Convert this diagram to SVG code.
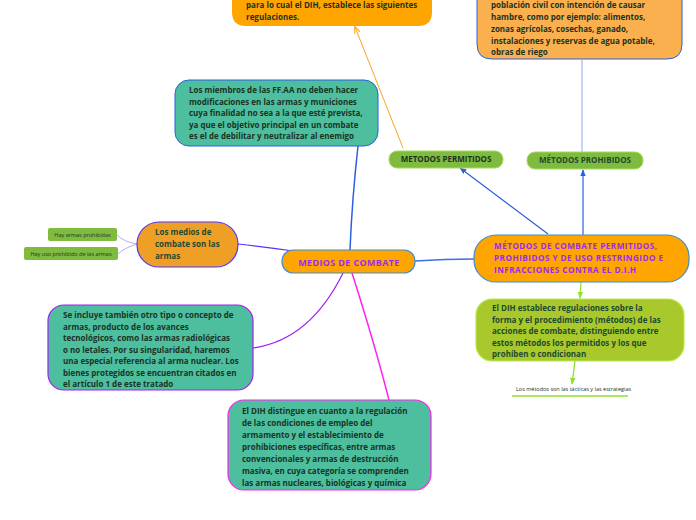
<svg xmlns="http://www.w3.org/2000/svg" width="696" height="520" viewBox="0 0 696 520">
<defs>
<style>
.t{font-family:"Open Sans","Liberation Sans",sans-serif;font-weight:bold;font-size:8px;fill:#1b3324}
.p{font-family:"Open Sans","Liberation Sans",sans-serif;font-weight:bold;fill:#9a2cf0}
.g{font-family:"Open Sans","Liberation Sans",sans-serif;font-size:5.5px;fill:#1b3324}
.teal{fill:#4dbe9e}
</style>
<marker id="ab" viewBox="0 0 10 10" refX="9" refY="5" markerWidth="7" markerHeight="7" orient="auto-start-reverse" markerUnits="userSpaceOnUse"><path d="M0,1 L10,5 L0,9 Z" fill="#2b5fe0"/></marker>
<marker id="ao" viewBox="0 0 10 10" refX="9" refY="5" markerWidth="7" markerHeight="7" orient="auto" markerUnits="userSpaceOnUse"><path d="M0,1 L10,5 L0,9" fill="none" stroke="#f5a623" stroke-width="1.5"/></marker>
<marker id="ag" viewBox="0 0 10 10" refX="9" refY="5" markerWidth="7" markerHeight="7" orient="auto" markerUnits="userSpaceOnUse"><path d="M0,1 L10,5 L0,9 Z" fill="#8ee22a"/></marker>
</defs>
<rect width="696" height="520" fill="#fff"/>
<g id="connectors" fill="none">
<path d="M403,148 L355,27" stroke="#f5a623" stroke-width="1" marker-end="url(#ao)"/>
<path d="M582,152 L582,60" stroke="#9fb8f0" stroke-width="1.2"/>
<path d="M548,234 L460,168" stroke="#2b5fe0" stroke-width="1.2" marker-end="url(#ab)"/>
<path d="M583,235 L583,170" stroke="#2b5fe0" stroke-width="1.2" marker-end="url(#ab)"/>
<path d="M415,261 Q445,259 474,259" stroke="#3b6fe8" stroke-width="1.3"/>
<path d="M350,250 Q352,200 358,146" stroke="#2b5fe0" stroke-width="1.5"/>
<path d="M238,244 Q265,247 293,251" stroke="#5533ff" stroke-width="1.2"/>
<path d="M137,244 Q124,242 117,235" stroke="#b9a8f5" stroke-width="1"/>
<path d="M137,244 Q124,248 118,254" stroke="#b9a8f5" stroke-width="1"/>
<path d="M253,348 Q310,340 343,273" stroke="#a020f0" stroke-width="1.2"/>
<path d="M352,273 Q375,345 389,400" stroke="#ff22ee" stroke-width="1.5"/>
<path d="M581,282 L580,298" stroke="#8ee22a" stroke-width="1.3" marker-end="url(#ag)"/>
<path d="M575,361 L572,384" stroke="#8ee22a" stroke-width="1.3" marker-end="url(#ag)"/>
</g>
<g id="n-top-left">
<path d="M232,-10 H432 V12 Q432,26 418,26 H246 Q232,26 232,12 Z" fill="#ffa500"/>
<text class="t" x="246" y="8">para lo cual el DIH, establece las siguientes</text>
<text class="t" x="246" y="19.5">regulaciones.</text>
</g>
<g id="n-top-right">
<path d="M477,-10 H682 V44 Q682,59 667,59 H492 Q477,59 477,44 Z" fill="#fab04e" stroke="#2b5fe0" stroke-width="1"/>
<text class="t" x="491" y="8">población civil con intención de causar</text>
<text class="t" x="491" y="20">hambre, como por ejemplo: alimentos,</text>
<text class="t" x="491" y="32">zonas agrícolas, cosechas, ganado,</text>
<text class="t" x="491" y="43.5">instalaciones y reservas de agua potable,</text>
<text class="t" x="491" y="55">obras de riego</text>
</g>
<g id="n-ffaa">
<rect x="175" y="80" width="203" height="66" rx="14" class="teal" stroke="#2b5fe0" stroke-width="1"/>
<text class="t" x="189" y="93">Los miembros de las FF.AA no deben hacer</text>
<text class="t" x="189" y="104.5">modificaciones en las armas y municiones</text>
<text class="t" x="189" y="116">cuya finalidad no sea a la que esté prevista,</text>
<text class="t" x="189" y="127.5">ya que el objetivo principal en un combate</text>
<text class="t" x="189" y="139">es el de debilitar y neutralizar al enemigo</text>
</g>
<g id="n-permitidos">
<rect x="389" y="151" width="114" height="17" rx="8" fill="#7fbb3f" stroke="#a6dc5a" stroke-width="1"/>
<text class="t" x="446" y="162" text-anchor="middle" font-size="7">METODOS PERMITIDOS</text>
</g>
<g id="n-prohibidos">
<rect x="527" y="152" width="116" height="17" rx="8" fill="#7fbb3f" stroke="#a6dc5a" stroke-width="1"/>
<text class="t" x="585" y="163" text-anchor="middle" font-size="7" style="fill:#1e4a30">MÉTODOS PROHIBIDOS</text>
</g>
<g id="n-main">
<rect x="474" y="235" width="215" height="47" rx="22" fill="#ffa500" stroke="#3f8ecf" stroke-width="1.2"/>
<text class="p" x="494" y="249" font-size="8.2" letter-spacing="0.45">MÉTODOS DE COMBATE PERMITIDOS,</text>
<text class="p" x="494" y="261" font-size="8.2" letter-spacing="0.45">PROHIBIDOS Y DE USO RESTRINGIDO E</text>
<text class="p" x="494" y="273" font-size="8.2" letter-spacing="0.45">INFRACCIONES CONTRA EL D.I.H</text>
</g>
<g id="n-medios">
<rect x="282" y="250" width="133" height="23" rx="11" fill="#ffa500" stroke="#3f8ecf" stroke-width="1.2"/>
<text class="p" x="349" y="265.5" text-anchor="middle" font-size="9" letter-spacing="0.35">MEDIOS DE COMBATE</text>
</g>
<g id="n-armas">
<rect x="137" y="222" width="101" height="45" rx="22" fill="#ef9f26" stroke="#5533ff" stroke-width="1.2"/>
<text class="t" x="155" y="235" style="fill:#1e4a30">Los medios de</text>
<text class="t" x="155" y="247" style="fill:#1e4a30">combate son las</text>
<text class="t" x="155" y="259" style="fill:#1e4a30">armas</text>
</g>
<g id="n-hay1">
<rect x="48" y="228" width="69" height="13" rx="2" fill="#7fbb3f"/>
<text class="g" x="82.5" y="236.5" text-anchor="middle">Hay armas prohibidas</text>
</g>
<g id="n-hay2">
<rect x="24" y="247" width="94" height="13" rx="2" fill="#7fbb3f"/>
<text class="g" x="71" y="255.5" text-anchor="middle">Hay uso prohibido de las armas</text>
</g>
<g id="n-incluye">
<rect x="48" y="305" width="205" height="85" rx="16" class="teal" stroke="#a020f0" stroke-width="1.2"/>
<text class="t" x="63" y="318">Se incluye también otro tipo o concepto de</text>
<text class="t" x="63" y="329.5">armas, producto de los avances</text>
<text class="t" x="63" y="341">tecnológicos, como las armas radiológicas</text>
<text class="t" x="63" y="352.5">o no letales.  Por su singularidad, haremos</text>
<text class="t" x="63" y="364">una especial referencia al arma nuclear. Los</text>
<text class="t" x="63" y="375.5">bienes protegidos se encuentran citados en</text>
<text class="t" x="63" y="387">el artículo 1 de este tratado</text>
</g>
<g id="n-distingue">
<rect x="228" y="400" width="203" height="90" rx="16" class="teal" stroke="#ff22ee" stroke-width="1.2"/>
<text class="t" x="242" y="414">El DIH distingue en cuanto a la regulación</text>
<text class="t" x="242" y="426">de las condiciones de empleo del</text>
<text class="t" x="242" y="438">armamento y el establecimiento de</text>
<text class="t" x="242" y="450">prohibiciones específicas, entre armas</text>
<text class="t" x="242" y="462">convencionales y armas de destrucción</text>
<text class="t" x="242" y="474">masiva, en cuya categoría se comprenden</text>
<text class="t" x="242" y="486">las armas nucleares, biológicas y química</text>
</g>
<g id="n-establece">
<rect x="476" y="299" width="208" height="62" rx="16" fill="#a8c82c" stroke="#b8ea50" stroke-width="1.2"/>
<text class="t" x="492" y="311" style="fill:#1e4a30">El DIH establece regulaciones sobre la</text>
<text class="t" x="492" y="322.5" style="fill:#1e4a30">forma y el procedimiento (métodos) de las</text>
<text class="t" x="492" y="334" style="fill:#1e4a30">acciones de combate, distinguiendo entre</text>
<text class="t" x="492" y="345.5" style="fill:#1e4a30">estos métodos los permitidos y los que</text>
<text class="t" x="492" y="357" style="fill:#1e4a30">prohíben o condicionan</text>
</g>
<g id="n-tacticas">
<text class="g" x="516" y="391" font-size="6.3">Los métodos son las tácticas y las estrategias</text>
<line x1="512" y1="396" x2="628" y2="396" stroke="#8ee22a" stroke-width="1.3"/>
</g>
</svg>
